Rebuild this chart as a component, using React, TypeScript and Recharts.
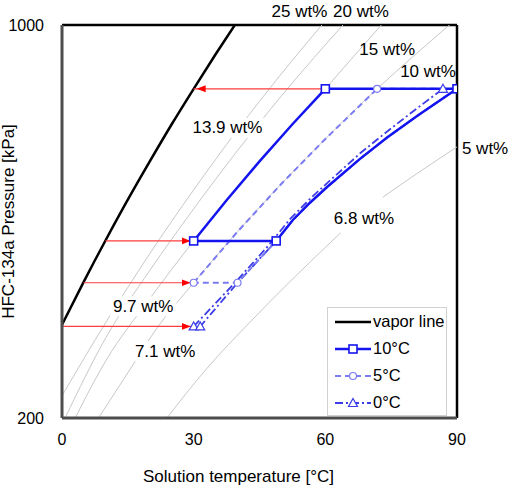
import React from "react";
import {
  ComposedChart,
  Line,
  Scatter,
  XAxis,
  YAxis,
  ReferenceLine,
  ReferenceDot,
  Legend,
} from "recharts";

document.body.style.margin = "0";

const FONT = '"Liberation Sans", Arial, sans-serif';
const C10 = "#1414f0";
const C5 = "#7b7bf2";
const C0 = "#3c3ce8";
const GREY = "#c8c8c8";
const RED = "#ff3c3c";

// all rows are [solution temperature °C, pressure kPa]
const vaporLine = [[0, 293], [5, 350], [10, 415], [15, 489], [20, 572], [25, 666], [30, 770], [35, 887], [40, 1017]];

// iso-concentration lines (grey)
const iso25 = [[0, 219], [10, 296], [20, 392], [30, 509], [40, 651], [50, 819], [60, 1017]];
const iso20 = [[0.7, 200], [10, 278], [20, 366], [30, 471], [40, 598], [50, 748], [60, 922], [65, 1020]];
const iso15 = [[3, 200], [10, 253], [20, 326], [30, 413], [45, 572], [60, 770], [66.5, 880], [73, 1005]];
const iso10 = [[8.3, 200], [14, 234], [21.9, 291], [30, 348], [40, 429], [50, 522], [60, 627], [71.8, 770], [80, 879], [90, 1027]];
const iso5a = [[23.9, 200], [33, 245], [42.8, 296], [52, 350], [63.5, 427]];
const iso5b = [[73.1, 494], [81, 545], [90, 607]];

// cycles (closed paths)
const weak68 = [[90, 770], [80.9, 689], [74, 630], [67.9, 578], [60.4, 515], [56.5, 483], [52.6, 450], [48.8, 413]];
const cycle10 = [[30, 413], [37.5, 488], [45, 572], [52.5, 666], [60, 770], ...weak68, [30, 413]];
const cycle5 = [[30, 348], [40, 429], [50, 522], [60, 627], [71.8, 770], ...weak68, [40, 348], [30, 348]];
const cycle0 = [[30, 291], [40, 352], [47, 405], [52, 452], [57, 495], [62, 537], [68, 592], [75, 655], [81, 712], [86.8, 770], ...weak68, [40, 348], [31.5, 291], [30, 291]];

const states10 = [[30, 413], [60, 770], [90, 770], [48.8, 413]];
const states5 = [[30, 348], [71.8, 770], [90, 770], [40, 348]];
const states0 = [[30, 291], [86.8, 770], [90, 770], [31.5, 291]];

// red arrows: from -> to
const arrows = [
  [[60, 770], [30, 770]],
  [[9.9, 413], [30, 413]],
  [[4.9, 348], [30, 348]],
  [[0, 291], [30, 291]],
];

// text, T, P
const edgeLabels: [string, number, number][] = [
  ["25 wt%", 54.1, 1059],
  ["20 wt%", 68.1, 1059],
  ["15 wt%", 74.1, 903],
  ["10 wt%", 83.4, 827],
  ["5 wt%", 96.4, 603],
];
const plotLabels: [string, number, number][] = [
  ["13.9 wt%", 37.7, 656],
  ["6.8 wt%", 68.8, 452],
  ["9.7 wt%", 18.5, 316],
  ["7.1 wt%", 23.5, 263],
];

const toPts = (rows: number[][]) => rows.map(([t, p]) => ({ t, p }));

const Square = ({ cx, cy }: any) => (
  <rect x={cx - 4} y={cy - 4} width={8} height={8} fill="#fff" stroke={C10} strokeWidth={1.6} />
);
const Circle = ({ cx, cy }: any) => (
  <circle cx={cx} cy={cy} r={3.5} fill="#fff" stroke={C5} strokeWidth={1.2} />
);
const Triangle = ({ cx, cy }: any) => (
  <polygon
    points={`${cx},${cy - 4.5} ${cx + 4.5},${cy + 3.5} ${cx - 4.5},${cy + 3.5}`}
    fill="#fff"
    stroke={C0}
    strokeWidth={1.2}
  />
);

const textLabel = (text: string, bg: boolean) => (props: any) => {
  const { cx, cy } = props;
  const w = text.length * 8.9 + 4;
  return (
    <g>
      {bg && <rect x={cx - w / 2} y={cy - 10} width={w} height={20} fill="#fff" />}
      <text
        x={cx}
        y={cy}
        textAnchor="middle"
        dominantBaseline="central"
        fontSize={17}
        fontFamily={FONT}
        fill="#000"
      >
        {text}
      </text>
    </g>
  );
};

const legendItems = [
  { name: "vapor line", color: "#000", width: 2.5, dash: undefined, Marker: null },
  { name: "10°C", color: C10, width: 2.5, dash: undefined, Marker: Square },
  { name: "5°C", color: C5, width: 2, dash: "6 4", Marker: Circle },
  { name: "0°C", color: C0, width: 1.8, dash: "8 3 2 3", Marker: Triangle },
];

const renderLegend = () => (
  <div
    style={{
      width: 120,
      height: 109,
      boxSizing: "border-box",
      border: "1px solid #d0d0d0",
      background: "#fff",
      fontFamily: FONT,
      fontSize: 16.5,
      color: "#000",
    }}
  >
    {legendItems.map((it) => (
      <div key={it.name} style={{ display: "flex", alignItems: "center", height: 27 }}>
        <svg width={36} height={14} style={{ marginLeft: 7 }}>
          <line x1={0} y1={7} x2={36} y2={7} stroke={it.color} strokeWidth={it.width} strokeDasharray={it.dash} />
          {it.Marker && <it.Marker cx={18} cy={7} />}
        </svg>
        <span style={{ marginLeft: 2 }}>{it.name}</span>
      </div>
    ))}
  </div>
);

const tickStyle = { fontSize: 16, fill: "#000", fontFamily: FONT };
const titleStyle = { fontSize: 17, fill: "#000", fontFamily: FONT, textAnchor: "middle" as const };

export default function App() {
  return (
    <ComposedChart width={511} height={490} margin={{ top: 25, right: 54, left: 0, bottom: 0 }}>
      <defs>
        <marker id="redArrow" markerUnits="userSpaceOnUse" markerWidth={14} markerHeight={8} refX={12} refY={4} orient="auto">
          <path d="M0,0.5 L9,4 L0,7.5 z" fill="#ff0000" />
        </marker>
      </defs>
      <XAxis
        type="number"
        dataKey="t"
        domain={[0, 90]}
        ticks={[0, 30, 60, 90]}
        allowDataOverflow
        height={72}
        tickLine={false}
        tickMargin={10}
        axisLine={{ stroke: "#4d4d4d", strokeWidth: 3 }}
        tick={tickStyle}
        label={{ value: "Solution temperature [°C]", position: "insideBottom", offset: 8, dx: -21, style: titleStyle }}
      />
      <YAxis
        type="number"
        dataKey="p"
        scale="log"
        domain={[200, 1000]}
        ticks={[200, 1000]}
        allowDataOverflow
        width={62}
        tickLine={false}
        tickMargin={12}
        axisLine={{ stroke: "#4d4d4d", strokeWidth: 3 }}
        tick={tickStyle}
        label={{ value: "HFC-134a Pressure [kPa]", angle: -90, position: "insideLeft", offset: 8, style: titleStyle }}
      />
      <ReferenceLine y={1000} stroke="#000" strokeWidth={2.5} />
      <ReferenceLine x={90} stroke="#000" strokeWidth={2.5} />

      {[iso25, iso20, iso15, iso10, iso5a, iso5b].map((rows, i) => (
        <Line key={`iso${i}`} data={toPts(rows)} dataKey="p" type="monotone" stroke={GREY} strokeWidth={1} dot={false} isAnimationActive={false} />
      ))}

      {plotLabels.map(([text, t, p]) => (
        <ReferenceDot key={text} x={t} y={p} r={0} ifOverflow="visible" shape={textLabel(text, true)} />
      ))}
      {edgeLabels.map(([text, t, p]) => (
        <ReferenceDot key={text} x={t} y={p} r={0} ifOverflow="visible" shape={textLabel(text, false)} />
      ))}

      <Line data={toPts(vaporLine)} dataKey="p" type="monotone" stroke="#000" strokeWidth={2.5} dot={false} isAnimationActive={false} />

      {arrows.map(([from, to], i) => (
        <ReferenceLine
          key={`arrow${i}`}
          segment={[{ x: from[0], y: from[1] }, { x: to[0], y: to[1] }]}
          stroke={RED}
          strokeWidth={1.2}
          markerEnd="url(#redArrow)"
        />
      ))}

      <Line data={toPts(cycle0)} dataKey="p" type="linear" stroke={C0} strokeWidth={1.8} strokeDasharray="8 3 2 3" dot={false} isAnimationActive={false} />
      <Line data={toPts(cycle5)} dataKey="p" type="linear" stroke={C5} strokeWidth={2} strokeDasharray="6 4" dot={false} isAnimationActive={false} />
      <Line data={toPts(cycle10)} dataKey="p" type="linear" stroke={C10} strokeWidth={2.5} dot={false} isAnimationActive={false} />

      <Scatter data={toPts(states0)} shape={Triangle} isAnimationActive={false} />
      <Scatter data={toPts(states5)} shape={Circle} isAnimationActive={false} />
      <Scatter data={toPts(states10)} shape={Square} isAnimationActive={false} />

      <Legend
        layout="horizontal"
        verticalAlign="middle"
        align="center"
        content={renderLegend}
        wrapperStyle={{ left: 327, top: 307, width: 120, height: 109 }}
      />
    </ComposedChart>
  );
}
